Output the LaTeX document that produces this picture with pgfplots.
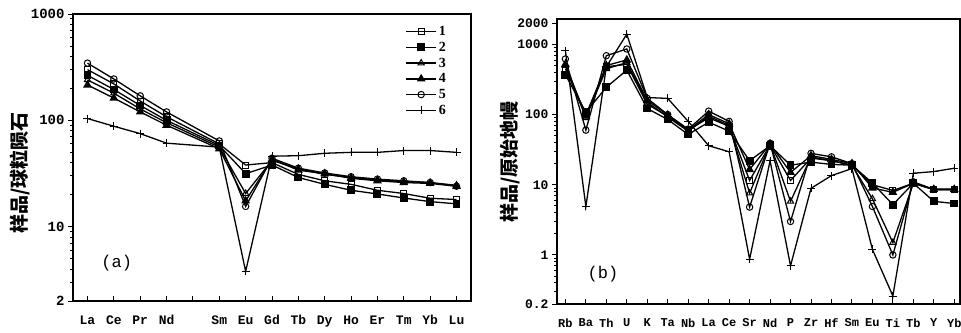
\documentclass[border=0pt]{standalone}
\usepackage{fontspec}
\setmainfont{Liberation Serif}
\newfontfamily\tickfont{Liberation Mono}
\newfontfamily\cjk{Noto Sans CJK SC}
\usepackage{pgfplots}
\pgfplotsset{compat=1.18}
\pgfplotsset{
  panel/.style={
    scale only axis, anchor=south west,
    axis line style={line width=1.3pt},
    xtick pos=bottom, ytick pos=left,
    xtick align=inside, ytick align=outside,
    major tick length=5pt, minor tick length=3pt,
    every tick/.style={black, line width=0.9pt},
    xticklabel style={font=\tickfont\bfseries\fontsize{13}{13}\selectfont, yshift=-11pt},
    yticklabel style={font=\tickfont\bfseries\fontsize{14}{14}\selectfont},
    every axis plot/.append style={line width=1.3pt, black},
    legend image code/.code={\draw[mark repeat=2,mark phase=2] plot coordinates {(0pt,0pt)(15pt,0pt)(30pt,0pt)};},
  },
  s1/.style={mark=square, mark size=3pt, mark options={fill=white, line width=1pt}},
  s2/.style={mark=square*, mark size=3.3pt, mark options={fill=black}},
  s3/.style={mark=triangle, mark size=3.6pt, mark options={fill=white, line width=1pt}},
  s4/.style={mark=triangle*, mark size=3.8pt, mark options={fill=black}},
  s5/.style={mark=o, mark size=3.2pt, mark options={fill=white, line width=1pt}},
  s6/.style={mark=+, mark size=4pt, mark options={line width=1pt}},
}
\begin{document}
\begin{tikzpicture}
\useasboundingbox (0,0) rectangle (961pt,332pt);
\node[rotate=90, font=\cjk\bfseries\fontsize{19}{19}\selectfont] at (20pt,159pt) {样品/球粒陨石};
\node[rotate=90, font=\cjk\bfseries\fontsize{19}{19}\selectfont] at (510pt,170pt) {样品/原始地幔};
% ---------- (a) REE ----------
\begin{axis}[panel, ymode=log,
  at={(73pt,31pt)}, width=398pt, height=287pt,
  ymin=2, ymax=1000, xmin=-0.55, xmax=14.55,
  xtick={0,...,14}, xticklabels={La,Ce,Pr,Nd,,Sm,Eu,Gd,Tb,Dy,Ho,Er,Tm,Yb,Lu},
  ytick={2,10,100,1000}, yticklabels={2,10,100,1000},
  minor ytick={3,4,5,6,7,8,9,20,30,40,50,60,70,80,90,200,300,400,500,600,700,800,900},
  legend style={at={(0.835,0.965)}, anchor=north west, draw=none, fill=none,
    font=\bfseries\fontsize{14}{14}\selectfont, row sep=1pt, inner sep=0pt,
    legend cell align=left},
]
\addplot[s1] coordinates {(0,300)(1,220)(2,152)(3,108)(5,60)(6,38)(7,40)(8,31)(9,27)(10,25)(11,22)(12,20.5)(13,18.5)(14,18)};
\addlegendentry{1}
\addplot[s2] coordinates {(0,265)(1,195)(2,138)(3,100)(5,58)(6,31.5)(7,38)(8,29)(9,25)(10,22)(11,20.3)(12,18.6)(13,17.2)(14,16.4)};
\addlegendentry{2}
\addplot[s3] coordinates {(0,240)(1,180)(2,128)(3,95)(5,56)(6,20.5)(7,42)(8,35)(9,31)(10,29)(11,27.5)(12,26.5)(13,26)(14,24.5)};
\addlegendentry{3}
\addplot[s4] coordinates {(0,215)(1,162)(2,120)(3,90)(5,54)(6,17.5)(7,43)(8,34)(9,31.5)(10,28.5)(11,27)(12,26)(13,25.5)(14,24)};
\addlegendentry{4}
\addplot[s5] coordinates {(0,345)(1,245)(2,170)(3,120)(5,64)(6,15.5)(7,44)(8,35.5)(9,32)(10,29.5)(11,28)(12,27)(13,26)(14,24)};
\addlegendentry{5}
\addplot[s6] coordinates {(0,104)(1,88)(2,75)(3,61)(5,56)(6,3.8)(7,46)(8,46.5)(9,49)(10,50)(11,50)(12,52)(13,52)(14,50)};
\addlegendentry{6}
\node[font=\tickfont\fontsize{17}{17}\selectfont] at (rel axis cs:0.11,0.132) {(a)};
\end{axis}
% ---------- (b) spider ----------
\begin{axis}[panel, ymode=log,
  at={(557pt,28pt)}, width=403pt, height=285pt,
  ymin=0.2, ymax=2300, xmin=-0.41, xmax=19.28,
  xtick={0,...,19}, xticklabels={Rb,Ba,Th,U,K,Ta,Nb,La,Ce,Sr,Nd,P,Zr,Hf,Sm,Eu,Ti,Tb,Y,Yb},
  ytick={0.2,1,10,100,1000,2000}, yticklabels={0.2,1,10,100,1000,2000},
  yticklabel style={font=\tickfont\bfseries\fontsize{13}{13}\selectfont},
  xticklabel style={font=\tickfont\bfseries\fontsize{12}{12}\selectfont},
  minor ytick={0.3,0.4,0.5,0.6,0.7,0.8,0.9,2,3,4,5,6,7,8,9,20,30,40,50,60,70,80,90,200,300,400,500,600,700,800,900},
]
\addplot[s1] coordinates {(0,450)(1,100)(2,480)(3,520)(4,140)(5,95)(6,60)(7,90)(8,68)(9,11.5)(10,37)(11,11.5)(12,24)(13,22)(14,19)(15,10)(16,8.3)(17,10.5)(18,8.5)(19,8.5)};
\addplot[s2] coordinates {(0,370)(1,108)(2,245)(3,430)(4,122)(5,85)(6,52)(7,78)(8,58)(9,22)(10,36)(11,19)(12,21)(13,19.5)(14,19)(15,10.6)(16,5.2)(17,10.5)(18,5.8)(19,5.4)};
\addplot[s3] coordinates {(0,500)(1,90)(2,450)(3,550)(4,150)(5,92)(6,58)(7,95)(8,70)(9,7.6)(10,38)(11,5.8)(12,25)(13,22)(14,19)(15,6.3)(16,1.5)(17,10.5)(18,8.6)(19,8.6)};
\addplot[s4] coordinates {(0,520)(1,95)(2,500)(3,600)(4,160)(5,98)(6,60)(7,100)(8,74)(9,16.5)(10,38)(11,15)(12,26)(13,23)(14,20)(15,9)(16,7.8)(17,10.5)(18,8.6)(19,8.6)};
\addplot[s5] coordinates {(0,620)(1,60)(2,690)(3,860)(4,170)(5,100)(6,62)(7,112)(8,80)(9,4.8)(10,39)(11,3.0)(12,28)(13,25)(14,20)(15,4.9)(16,1.0)(17,11)(18,8.6)(19,8.6)};
\addplot[s6] coordinates {(0,813)(1,4.9)(2,480)(3,1400)(4,175)(5,170)(6,80)(7,36)(8,29.5)(9,0.87)(10,22)(11,0.7)(12,8.9)(13,13.5)(14,17)(15,1.2)(16,0.26)(17,14.6)(18,15.4)(19,17.2)};
\node[font=\tickfont\fontsize{17}{17}\selectfont] at (rel axis cs:0.114,0.105) {(b)};
\end{axis}
\end{tikzpicture}
\end{document}
